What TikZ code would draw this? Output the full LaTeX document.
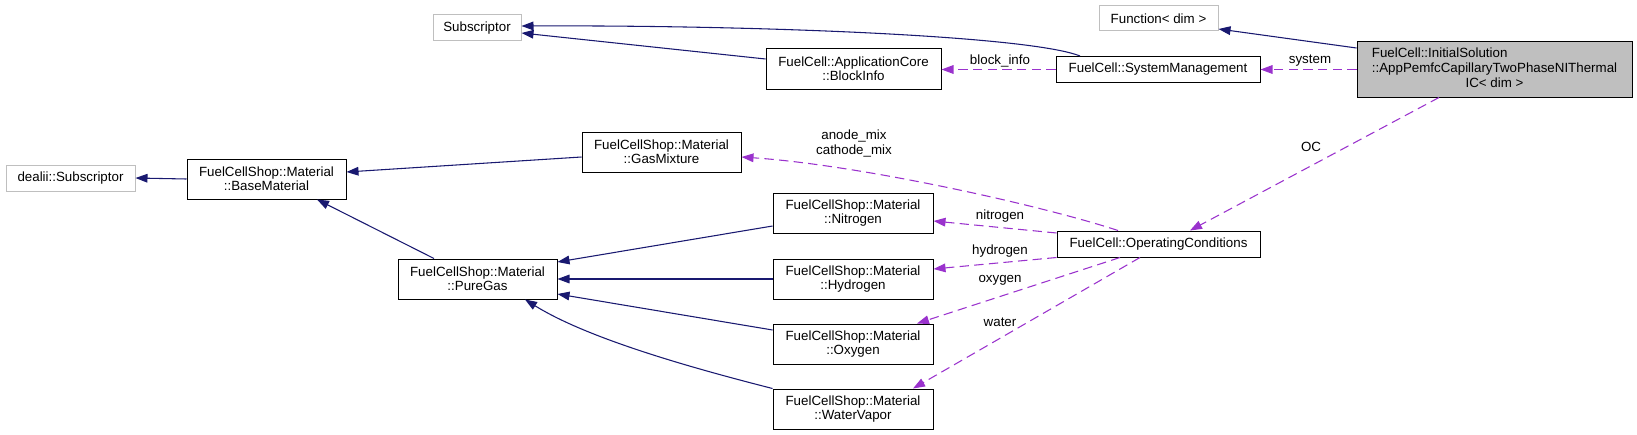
\documentclass[tikz,border=0pt]{standalone}
\usepackage{fontspec}
\setmainfont{Liberation Sans}
\usetikzlibrary{arrows.meta,calc}
\definecolor{inhcol}{HTML}{191970}
\definecolor{usecol}{HTML}{9A32CD}
\definecolor{grayb}{HTML}{BFBFBF}
\begin{document}
\begin{tikzpicture}[x=0.75pt,y=-0.75pt,
  cbox/.style={draw=black,line width=0.75pt,fill=white,inner sep=0pt,align=center,font=\fontsize{10}{10.3}\selectfont},
  xbox/.style={cbox,draw=grayb},
  sz/.style 2 args={minimum width=#1*0.75pt,minimum height=#2*0.75pt},
  inhedge/.style={draw=inhcol,line width=0.8pt,-{Triangle[length=9pt,width=6.5pt]}},
  useedge/.style={draw=usecol,line width=0.8pt,dash pattern=on 7pt off 4pt,-{Triangle[length=9pt,width=6.5pt]}},
  lbl/.style={inner sep=0pt,align=center,font=\fontsize{10}{11.25}\selectfont}]
\useasboundingbox (0,0) rectangle (1637,435);
% nodes
\node[xbox,sz={88}{26}] (sub) at (477,28) {Subscriptor};
\node[xbox,sz={129}{26}] (dealii) at (70.5,178) {dealii::Subscriptor};
\node[xbox,sz={119}{25}] (func) at (1158.5,18.5) {Function< dim >};
\node[cbox,sz={159}{40}] (base) at (266.5,179) {FuelCellShop::Material\\::BaseMaterial};
\node[cbox,sz={175}{40}] (blockinfo) at (853.5,69) {FuelCell::ApplicationCore\\::BlockInfo};
\node[cbox,sz={204}{26}] (sm) at (1158,69.5) {FuelCell::SystemManagement};
\node[cbox,sz={275}{55},fill=grayb,font=\fontsize{10}{11.25}\selectfont] (main) at (1494.5,69.5) {\begin{tabular}{@{}l@{}}FuelCell::InitialSolution\\::AppPemfcCapillaryTwoPhaseNIThermal\\\multicolumn{1}{@{}c@{}}{IC< dim >}\end{tabular}};
\node[cbox,sz={159}{40}] (gasmix) at (661.5,152) {FuelCellShop::Material\\::GasMixture};
\node[cbox,sz={160}{40}] (nitrogen) at (853,213) {FuelCellShop::Material\\::Nitrogen};
\node[cbox,sz={160}{40}] (hydrogen) at (853,279) {FuelCellShop::Material\\::Hydrogen};
\node[cbox,sz={160}{40}] (oxygen) at (853,344) {FuelCellShop::Material\\::Oxygen};
\node[cbox,sz={160}{40}] (water) at (853,409) {FuelCellShop::Material\\::WaterVapor};
\node[cbox,sz={159}{40}] (puregas) at (477.5,279) {FuelCellShop::Material\\::PureGas};
\node[cbox,sz={203}{26}] (oc) at (1158.5,244) {FuelCell::OperatingConditions};
% inheritance edges
\draw[inhedge] (base.west) -- (dealii.east);
\draw[inhedge] ($(gasmix.west)+(0,5)$) -- ($(base.east)+(0,-7)$);
\draw[inhedge] ($(puregas.north)+(-43.5,0)$) -- ($(base.south)+(50.5,0)$);
\draw[inhedge] ($(nitrogen.west)+(0,13)$) -- ($(puregas.east)+(0,-17)$);
\draw[inhedge] (hydrogen.west) -- (puregas.east);
\draw[inhedge] ($(oxygen.west)+(0,-14)$) -- ($(puregas.east)+(0,15)$);
\draw[inhedge] (water.north west) .. controls (700,370) and (590,340) .. ($(puregas.south)+(47.5,0)$);
\draw[inhedge] ($(blockinfo.west)+(0,-10)$) -- ($(sub.east)+(0,5)$);
\draw[inhedge] ($(sm.north)+(-78,0)$) .. controls (1030,36) and (760,25) .. ($(sub.east)+(0,-2)$);
\draw[inhedge] ($(main.west)+(0,-21.5)$) -- ($(func.east)+(0,10.5)$);
% usage edges
\draw[useedge] (main.west) -- (sm.east);
\draw[useedge] (sm.west) -- (blockinfo.east |- sm.west);
\draw[useedge] ($(main.south)+(-55.5,0)$) -- ($(oc.north)+(31.5,0)$);
\draw[useedge] ($(oc.north)+(-40.5,0)$) .. controls (1040,205) and (860,165) .. ($(gasmix.east)+(0,5)$);
\draw[useedge] ($(oc.west)+(0,-11)$) -- ($(nitrogen.east)+(0,8)$);
\draw[useedge] (oc.south west) -- ($(hydrogen.east)+(0,-10)$);
\draw[useedge] ($(oc.south)+(-38.5,0)$) -- ($(oxygen.north)+(64,0)$);
\draw[useedge] ($(oc.south)+(-18.5,0)$) -- ($(water.north)+(60,0)$);
% labels
\node[lbl] (lsys) at (1310,61) {system};
\node[lbl] (lblk) at (1000,61) {block\_info};
\node[lbl] (loc) at (1311,147) {OC};
\node[lbl] (lmix) at (854,143.5) {anode\_mix\\cathode\_mix};
\node[lbl] (lnit) at (1000,216) {nitrogen};
\node[lbl] (lhyd) at (1000,251) {hydrogen};
\node[lbl] (loxy) at (1000,280) {oxygen};
\node[lbl] (lwat) at (1000,322) {water};
\end{tikzpicture}
\end{document}
